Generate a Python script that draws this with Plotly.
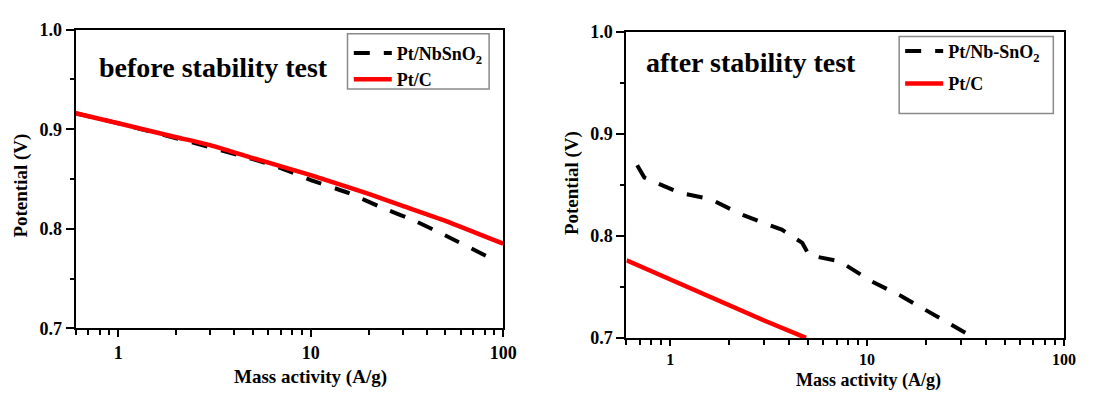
import plotly.graph_objects as go

# ---- data ----
before_nb_x = [0.6, 1, 2, 5, 7, 10, 15.7, 23.6, 34.7, 51.6, 85]
before_nb_y = [0.916, 0.906, 0.891, 0.870, 0.861, 0.849, 0.836, 0.821, 0.808, 0.792, 0.771]
before_ptc_x = [0.6, 1, 2, 3, 5, 10, 20, 30, 50, 100]
before_ptc_y = [0.916, 0.906, 0.892, 0.884, 0.871, 0.854, 0.835, 0.823, 0.808, 0.785]

after_nb_x = [0.68, 0.74, 1.12, 1.6, 2.29, 3.69, 4.69, 5.08, 7.27, 10.4, 14.9, 22.2, 30.5, 35.1]
after_nb_y = [0.869, 0.857, 0.842, 0.836, 0.821, 0.806, 0.793, 0.781, 0.775, 0.756, 0.741, 0.722, 0.706, 0.700]
after_ptc_x = [0.6, 1, 2, 3, 4.9]
after_ptc_y = [0.776, 0.757, 0.732, 0.717, 0.700]

x_tickvals = [1, 10, 100]
x_ticktext = ["1", "10", "100"]
y_tickvals = [0.7, 0.8, 0.9, 1.0]
y_ticktext = ["0.7", "0.8", "0.9", "1.0"]

names_left = ["Pt/NbSnO<sub>2</sub>", "Pt/C"]
names_right = ["Pt/Nb-SnO<sub>2</sub>", "Pt/C"]
panel_titles = ["before stability test", "after stability test"]
x_title = "Mass activity (A/g)"
y_title = "Potential (V)"

FONT = "Liberation Serif, Times New Roman, serif"
W, H = 1093, 403

def px(x):
    return x / W

def py(y):
    return 1 - y / H

def b(t):
    return "<b>" + t + "</b>"

fig = go.Figure()
dash = "16px,14px"
fig.add_trace(go.Scatter(x=before_nb_x, y=before_nb_y, mode="lines", name=b(names_left[0]),
                         line=dict(color="black", width=4, dash=dash, shape="spline", smoothing=0.5),
                         xaxis="x", yaxis="y", legend="legend"))
fig.add_trace(go.Scatter(x=before_ptc_x, y=before_ptc_y, mode="lines", name=b(names_left[1]),
                         line=dict(color="#ff0000", width=4.5, shape="spline", smoothing=0.5),
                         xaxis="x", yaxis="y", legend="legend"))
fig.add_trace(go.Scatter(x=after_nb_x, y=after_nb_y, mode="lines", name=b(names_right[0]),
                         line=dict(color="black", width=4, dash=dash),
                         xaxis="x2", yaxis="y2", legend="legend2", legendgroup="a"))
fig.add_trace(go.Scatter(x=after_ptc_x, y=after_ptc_y, mode="lines", name=b(names_right[1]),
                         line=dict(color="#ff0000", width=4.5),
                         xaxis="x2", yaxis="y2", legend="legend2", legendgroup="b"))

def xaxis(domain, anchor, fs, tl):
    return dict(domain=domain, anchor=anchor, type="log", range=[-0.2218, 2],
                tickvals=x_tickvals, ticktext=[b(t) for t in x_ticktext],
                ticks="outside", ticklen=tl, tickwidth=2, tickcolor="black",
                minor=dict(ticks="outside", ticklen=5, tickwidth=2, tickcolor="black", dtick="D1", showgrid=False),
                showline=True, linecolor="black", linewidth=2, mirror=True,
                showgrid=False, zeroline=False,
                tickfont=dict(family=FONT, size=fs, color="black"))

def yaxis(domain, anchor):
    return dict(domain=domain, anchor=anchor, range=[0.7, 1.0],
                tickvals=y_tickvals, ticktext=[b(t) for t in y_ticktext],
                ticks="outside", ticklen=8, tickwidth=2, tickcolor="black",
                minor=dict(ticks="outside", ticklen=4, tickwidth=2, tickcolor="black",
                           tickvals=[0.75, 0.85, 0.95], showgrid=False),
                showline=True, linecolor="black", linewidth=2, mirror=True,
                showgrid=False, zeroline=False,
                tickfont=dict(family=FONT, size=18, color="black"))

fig.update_layout(
    width=W, height=H,
    margin=dict(l=0, r=0, t=0, b=0),
    paper_bgcolor="white", plot_bgcolor="white",
    font=dict(family=FONT, color="black"),
    xaxis=xaxis([px(76.5), px(509.3)], "y", 18, 7),
    yaxis=yaxis([py(335), py(20.7)], "x"),
    xaxis2=xaxis([px(634), px(1076.7)], "y2", 16, 6),
    yaxis2=yaxis([py(345), py(22.7)], "x2"),
    legend=dict(x=px(353), y=py(26), xanchor="left", yanchor="top",
                bgcolor="rgba(0,0,0,0)", borderwidth=0, itemwidth=38,
                font=dict(family=FONT, size=18, color="black")),
    legend2=dict(x=px(911), y=py(24), xanchor="left", yanchor="top",
                 bgcolor="rgba(0,0,0,0)", borderwidth=0, tracegroupgap=6,
                 traceorder="grouped", itemwidth=38,
                 font=dict(family=FONT, size=18, color="black")),
    showlegend=True,
)

# legend frames
fig.add_shape(type="rect", xref="paper", yref="paper",
              x0=px(351.7), x1=px(495), y0=py(83), y1=py(25),
              line=dict(color="#8a8a8a", width=1.5))
fig.add_shape(type="rect", xref="paper", yref="paper",
              x0=px(910), x1=px(1066), y0=py(109), y1=py(28),
              line=dict(color="#8a8a8a", width=1.5))

ann = []
ann.append(dict(text=b(panel_titles[0]), x=px(216), y=py(60), xref="paper", yref="paper",
                xanchor="center", yanchor="middle", showarrow=False,
                font=dict(family=FONT, size=28, color="black")))
ann.append(dict(text=b(panel_titles[1]), x=px(760), y=py(55), xref="paper", yref="paper",
                xanchor="center", yanchor="middle", showarrow=False,
                font=dict(family=FONT, size=28, color="black")))
ann.append(dict(text=b(x_title), x=px(314), y=py(386), xref="paper", yref="paper",
                xanchor="center", yanchor="middle", showarrow=False,
                font=dict(family=FONT, size=19, color="black")))
ann.append(dict(text=b(x_title), x=px(879), y=py(403), xref="paper", yref="paper",
                xanchor="center", yanchor="bottom", showarrow=False,
                font=dict(family=FONT, size=18, color="black")))
for cx, cy in [(21, 185), (579, 182)]:
    ann.append(dict(text=b(y_title), x=px(cx), y=py(cy), xref="paper", yref="paper",
                    xanchor="center", yanchor="middle", showarrow=False, textangle=-90,
                    font=dict(family=FONT, size=19, color="black")))
fig.update_layout(annotations=ann)

fig.write_html("out.html")
